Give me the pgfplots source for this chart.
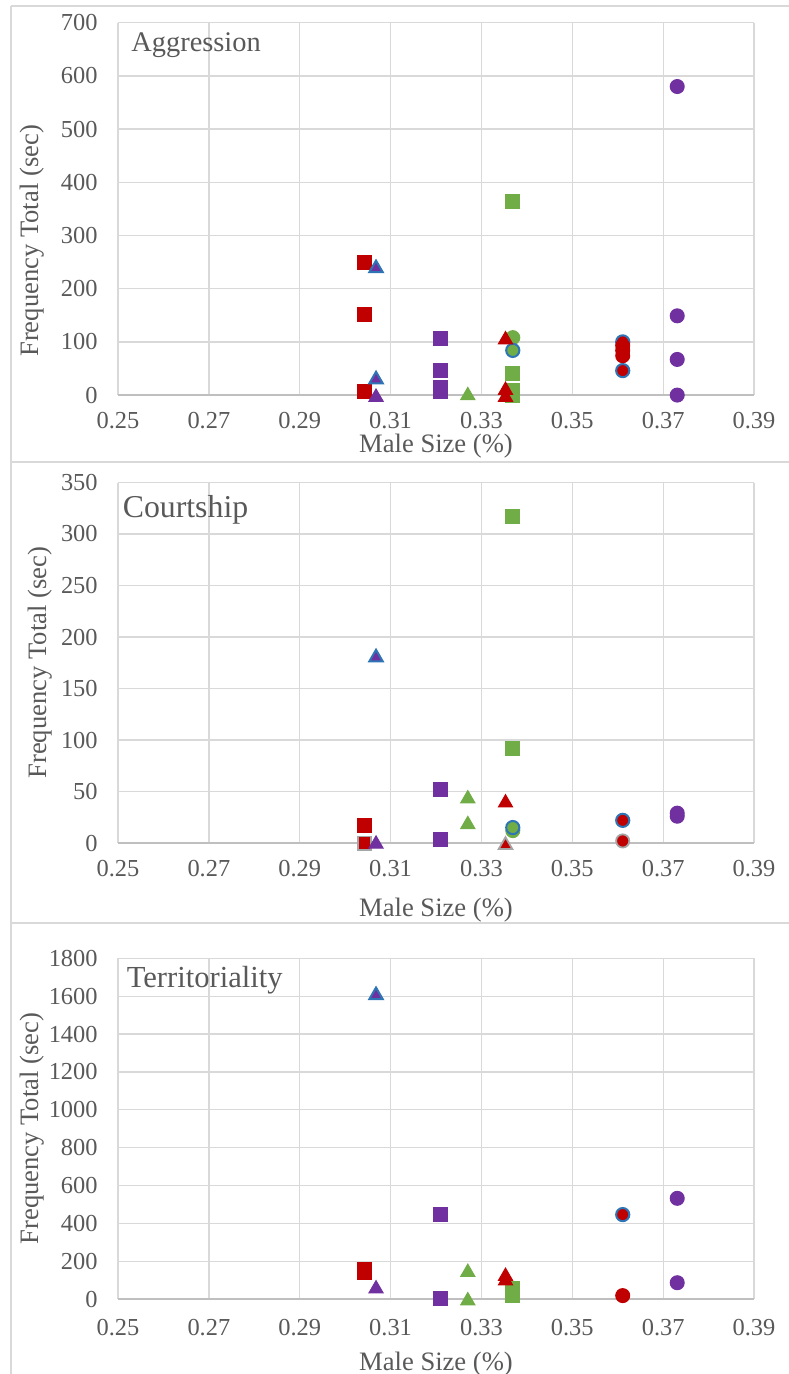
\documentclass[border=0pt]{standalone}
\usepackage{pgfplots}
\pgfplotsset{compat=1.18}
\usepackage{fontspec}
\setmainfont{Liberation Serif}
\definecolor{cred}{HTML}{C00000}
\definecolor{cgreen}{HTML}{70AD47}
\definecolor{cpurple}{HTML}{7030A0}
\definecolor{cblue}{HTML}{2E75B6}
\definecolor{cgray}{HTML}{A5A5A5}
\definecolor{gridc}{HTML}{D9D9D9}
\definecolor{axc}{HTML}{BFBFBF}
\definecolor{tc}{HTML}{595959}
\pgfplotsset{
 panel/.style={scale only axis, width=318pt, xmin=0.25, xmax=0.39,
  xtick={0.25,0.27,0.29,0.31,0.33,0.35,0.37,0.39},
  grid=major, grid style={gridc, line width=0.65pt}, major tick length=0pt,
  axis x line*=bottom, axis y line*=left,
  y axis line style={draw=none}, x axis line style={draw=axc, line width=0.75pt, -},
  /pgf/number format/assume math mode=true, /pgf/number format/1000 sep={},
  tick label style={font=\fontsize{12.2}{14}\selectfont, text=tc},
  xticklabel style={anchor=center, /pgf/number format/fixed, /pgf/number format/fixed zerofill, /pgf/number format/precision=2},
  yticklabel style={anchor=east, inner sep=0pt, xshift=-10pt},
  label style={font=\fontsize{13.3}{15}\selectfont, text=tc},
  xlabel={Male Size (\%)}, ylabel={Frequency Total (sec)}},
 sq/.style={only marks, color=#1, mark=square*, mark size=3.5pt, mark options={fill=#1, draw=#1, line width=0.5pt}},
 sqg/.style={only marks, color=#1, mark=square*, mark size=3.3pt, mark options={fill=#1, draw=cgray, line width=0.9pt}},
 ci/.style={only marks, color=#1, mark=*, mark size=3.5pt, mark options={fill=#1, draw=#1, line width=0.5pt}},
 cib/.style={only marks, color=#1, mark=*, mark size=3.3pt, mark options={fill=#1, draw=cblue, line width=1pt}},
 cig/.style={only marks, color=#1, mark=*, mark size=3.3pt, mark options={fill=#1, draw=cgray, line width=0.9pt}},
 tr/.style={only marks, color=#1, mark=triangle*, mark size=4.1pt, mark options={fill=#1, draw=#1, line width=0.5pt, yshift=-1.05pt}},
 trb/.style={only marks, color=#1, mark=triangle*, mark size=3.9pt, mark options={fill=#1, draw=cblue, line width=1pt, yshift=-1pt}},
 trg/.style={only marks, color=#1, mark=triangle*, mark size=3.9pt, mark options={fill=#1, draw=cgray, line width=0.9pt, yshift=-1pt}},
}
\begin{document}
\begin{tikzpicture}
\path[use as bounding box] (0pt,0pt) rectangle (394pt,-687pt);
\draw[gridc, line width=0.8pt] (5.5pt,-3pt) -- (400pt,-3pt);
\draw[gridc, line width=0.8pt] (5.5pt,-3pt) -- (5.5pt,-690pt);
\draw[gridc, line width=0.8pt] (5.5pt,-230.85pt) -- (400pt,-230.85pt);
\draw[gridc, line width=0.8pt] (5.5pt,-461.5pt) -- (400pt,-461.5pt);

% ---------------- Aggression
\begin{axis}[panel, at={(59pt,-11.35pt)}, anchor=north west, height=186.2pt,
  ymin=0, ymax=700, ytick={0,100,...,700},
  xticklabel style={yshift=-12.5pt},
  xlabel style={at={(axis description cs:0.5,-0.138)}, anchor=center},
  ylabel style={at={(axis description cs:-0.1344,0.414)}, anchor=center}]
\addplot[sq=cgreen] coordinates {(0.3369,363) (0.3369,41) (0.3369,8) (0.3369,0)};
\addplot[ci=cgreen] coordinates {(0.3369,108)};
\addplot[cib=cgreen] coordinates {(0.3369,84)};
\addplot[tr=cgreen] coordinates {(0.3270,3)};
\addplot[sq=cred] coordinates {(0.3043,250) (0.3043,151) (0.3043,6)};
\addplot[trb=cpurple] coordinates {(0.3068,242) (0.3068,33)};
\addplot[tr=cpurple] coordinates {(0.3068,0)};
\addplot[sq=cpurple] coordinates {(0.3210,107) (0.3210,46) (0.3210,15) (0.3210,7)};
\addplot[tr=cred] coordinates {(0.3353,108) (0.3353,13) (0.3353,0)};
\addplot[cib=cred] coordinates {(0.3611,100) (0.3611,46)};
\addplot[ci=cred] coordinates {(0.3611,93) (0.3611,84) (0.3611,74)};
\addplot[ci=cpurple] coordinates {(0.3731,580) (0.3731,149) (0.3731,67) (0.3731,0)};
\node[anchor=base west, inner sep=0pt, font=\fontsize{14.2}{16}\selectfont, text=tc] at ([xshift=6.5pt, yshift=-14.5pt]rel axis cs:0,1) {Aggression};
\end{axis}

% ---------------- Courtship
\begin{axis}[panel, at={(59pt,-241.25pt)}, anchor=north west, height=180.25pt,
  ymin=0, ymax=350, ytick={0,50,...,350},
  xticklabel style={yshift=-13pt},
  xlabel style={at={(axis description cs:0.5,-0.1859)}, anchor=center},
  ylabel style={at={(axis description cs:-0.1226,0.5)}, anchor=center}]
\addplot[sq=cgreen] coordinates {(0.3369,317) (0.3369,92)};
\addplot[ci=cgreen] coordinates {(0.3369,12)};
\addplot[cib=cgreen] coordinates {(0.3369,15)};
\addplot[tr=cgreen] coordinates {(0.3270,45) (0.3270,20)};
\addplot[sq=cred] coordinates {(0.3043,17)};
\addplot[sqg=cred] coordinates {(0.3043,0)};
\addplot[trb=cpurple] coordinates {(0.3068,182)};
\addplot[tr=cpurple] coordinates {(0.3068,1)};
\addplot[sq=cpurple] coordinates {(0.3210,52) (0.3210,3)};
\addplot[tr=cred] coordinates {(0.3353,41)};
\addplot[trg=cred] coordinates {(0.3353,0)};
\addplot[cib=cred] coordinates {(0.3611,22)};
\addplot[cig=cred] coordinates {(0.3611,2)};
\addplot[ci=cpurple] coordinates {(0.3731,29) (0.3731,26)};
\node[anchor=base west, inner sep=0pt, font=\fontsize{15.9}{18}\selectfont, text=tc] at ([xshift=2.2pt, yshift=-17.5pt]rel axis cs:0,1) {Courtship};
\end{axis}

% ---------------- Territoriality
\begin{axis}[panel, at={(59pt,-479.15pt)}, anchor=north west, height=170.35pt,
  ymin=0, ymax=1800, ytick={0,200,...,1800},
  xticklabel style={yshift=-14.5pt},
  xlabel style={at={(axis description cs:0.5,-0.1908)}, anchor=center},
  ylabel style={at={(axis description cs:-0.1344,0.5)}, anchor=center}]
\addplot[sq=cgreen] coordinates {(0.3369,58) (0.3369,20)};
\addplot[tr=cgreen] coordinates {(0.3270,152) (0.3270,2)};
\addplot[sq=cred] coordinates {(0.3043,156) (0.3043,140)};
\addplot[trb=cpurple] coordinates {(0.3068,1615)};
\addplot[tr=cpurple] coordinates {(0.3068,65)};
\addplot[sq=cpurple] coordinates {(0.3210,444) (0.3210,1)};
\addplot[tr=cred] coordinates {(0.3353,131) (0.3353,107)};
\addplot[cib=cred] coordinates {(0.3611,446)};
\addplot[ci=cred] coordinates {(0.3611,18)};
\addplot[ci=cpurple] coordinates {(0.3731,532) (0.3731,86)};
\node[anchor=base west, inner sep=0pt, font=\fontsize{15.3}{17}\selectfont, text=tc] at ([xshift=4.2pt, yshift=-14.5pt]rel axis cs:0,1) {Territoriality};
\end{axis}
\end{tikzpicture}
\end{document}
